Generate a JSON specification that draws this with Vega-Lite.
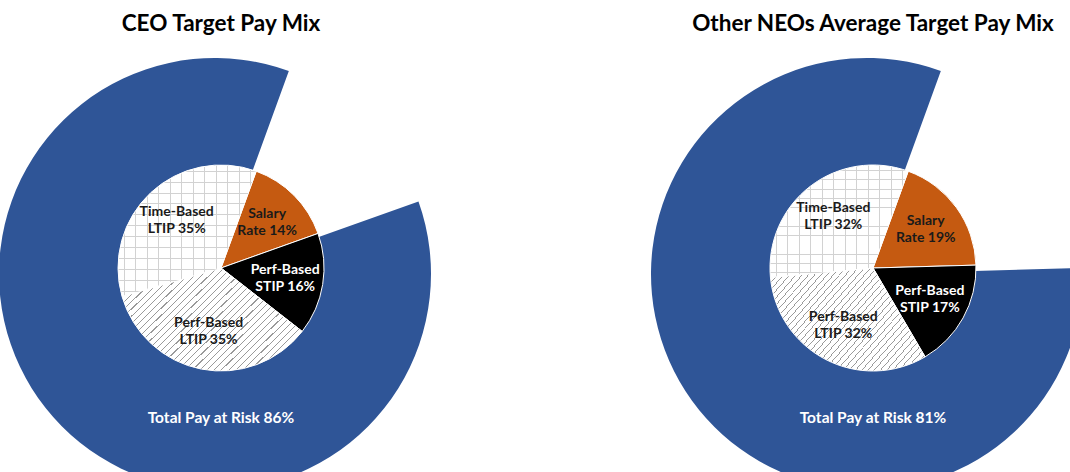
{
  "$schema": "https://vega.github.io/schema/vega-lite/v6.json",
  "width": 1070,
  "height": 472,
  "autosize": {"type": "none"},
  "padding": 0,
  "background": "white",
  "config": {"view": {"stroke": null}, "font": "Lato"},
  "datasets": {
    "pie": [
      {"chart": "CEO", "seg": "Salary", "label": "Salary\nRate 14%", "start": 0, "end": 14},
      {"chart": "CEO", "seg": "Perf-Based STIP", "label": "Perf-Based\nSTIP 16%", "start": 14, "end": 30},
      {"chart": "CEO", "seg": "Perf-Based LTIP", "label": "Perf-Based\nLTIP 35%", "start": 30, "end": 65},
      {"chart": "CEO", "seg": "Time-Based LTIP", "label": "Time-Based\nLTIP 35%", "start": 65, "end": 100},
      {"chart": "NEO", "seg": "Salary", "label": "Salary\nRate 19%", "start": 0, "end": 19},
      {"chart": "NEO", "seg": "Perf-Based STIP", "label": "Perf-Based\nSTIP 17%", "start": 19, "end": 36},
      {"chart": "NEO", "seg": "Perf-Based LTIP", "label": "Perf-Based\nLTIP 32%", "start": 36, "end": 68},
      {"chart": "NEO", "seg": "Time-Based LTIP", "label": "Time-Based\nLTIP 32%", "start": 68, "end": 100}
    ],
    "risk": [
      {"chart": "CEO", "label": "Total Pay at Risk 86%", "start": 14, "end": 100},
      {"chart": "NEO", "label": "Total Pay at Risk 81%", "start": 19, "end": 100}
    ],
    "titles": [
      {"chart": "CEO", "title": "CEO Target Pay Mix"},
      {"chart": "NEO", "title": "Other NEOs Average Target Pay Mix"}
    ]
  },
  "encoding": {
    "x": {"field": "chart", "type": "nominal", "scale": {"type": "point", "domain": ["CEO", "NEO"], "range": [221, 873], "padding": 0}, "axis": null},
    "y": {"field": "chart", "type": "nominal", "scale": {"type": "point", "domain": ["CEO", "NEO"], "range": [268, 268], "padding": 0}, "axis": null}
  },
  "layer": [
    {
      "data": {"name": "risk"},
      "mark": {"type": "arc", "radius": 216, "radius2": 90, "fill": "#2F5597", "xOffset": -6, "yOffset": 6},
      "encoding": {
        "theta": {"field": "start", "type": "quantitative", "scale": {"domain": [0, 100], "range": [0.349, 6.632]}},
        "theta2": {"field": "end"}
      }
    },
    {
      "data": {"name": "pie"},
      "transform": [{"filter": "datum.seg === 'Salary' || datum.seg === 'Perf-Based STIP'"}],
      "mark": {"type": "arc", "radius": 103, "stroke": "white", "strokeWidth": 1},
      "encoding": {
        "theta": {"field": "start", "type": "quantitative", "scale": {"domain": [0, 100], "range": [0.349, 6.632]}},
        "theta2": {"field": "end"},
        "fill": {"condition": {"test": "datum.seg === 'Salary'", "value": "#C55A11"}, "value": "#000000"}
      }
    },
    {
      "data": {"name": "pie"},
      "transform": [{"filter": "datum.seg === 'Perf-Based LTIP'"}],
      "mark": {"type": "arc", "radius": 103, "stroke": "white", "strokeWidth": 1,
        "fill": {"gradient": "linear", "x1": 0, "y1": 0, "x2": 1.2, "y2": 0.7, "stops": [
          {"offset": 0, "color": "#9a9a9a"}, {"offset": 0.004, "color": "#9a9a9a"}, {"offset": 0.004, "color": "#ffffff"}, {"offset": 0.025, "color": "#ffffff"},
          {"offset": 0.025, "color": "#9a9a9a"}, {"offset": 0.029, "color": "#9a9a9a"}, {"offset": 0.029, "color": "#ffffff"}, {"offset": 0.05, "color": "#ffffff"},
          {"offset": 0.05, "color": "#9a9a9a"}, {"offset": 0.054, "color": "#9a9a9a"}, {"offset": 0.054, "color": "#ffffff"}, {"offset": 0.075, "color": "#ffffff"},
          {"offset": 0.075, "color": "#9a9a9a"}, {"offset": 0.079, "color": "#9a9a9a"}, {"offset": 0.079, "color": "#ffffff"}, {"offset": 0.1, "color": "#ffffff"},
          {"offset": 0.1, "color": "#9a9a9a"}, {"offset": 0.104, "color": "#9a9a9a"}, {"offset": 0.104, "color": "#ffffff"}, {"offset": 0.125, "color": "#ffffff"},
          {"offset": 0.125, "color": "#9a9a9a"}, {"offset": 0.129, "color": "#9a9a9a"}, {"offset": 0.129, "color": "#ffffff"}, {"offset": 0.15, "color": "#ffffff"},
          {"offset": 0.15, "color": "#9a9a9a"}, {"offset": 0.154, "color": "#9a9a9a"}, {"offset": 0.154, "color": "#ffffff"}, {"offset": 0.175, "color": "#ffffff"},
          {"offset": 0.175, "color": "#9a9a9a"}, {"offset": 0.179, "color": "#9a9a9a"}, {"offset": 0.179, "color": "#ffffff"}, {"offset": 0.2, "color": "#ffffff"},
          {"offset": 0.2, "color": "#9a9a9a"}, {"offset": 0.204, "color": "#9a9a9a"}, {"offset": 0.204, "color": "#ffffff"}, {"offset": 0.225, "color": "#ffffff"},
          {"offset": 0.225, "color": "#9a9a9a"}, {"offset": 0.229, "color": "#9a9a9a"}, {"offset": 0.229, "color": "#ffffff"}, {"offset": 0.25, "color": "#ffffff"},
          {"offset": 0.25, "color": "#9a9a9a"}, {"offset": 0.254, "color": "#9a9a9a"}, {"offset": 0.254, "color": "#ffffff"}, {"offset": 0.275, "color": "#ffffff"},
          {"offset": 0.275, "color": "#9a9a9a"}, {"offset": 0.279, "color": "#9a9a9a"}, {"offset": 0.279, "color": "#ffffff"}, {"offset": 0.3, "color": "#ffffff"},
          {"offset": 0.3, "color": "#9a9a9a"}, {"offset": 0.304, "color": "#9a9a9a"}, {"offset": 0.304, "color": "#ffffff"}, {"offset": 0.325, "color": "#ffffff"},
          {"offset": 0.325, "color": "#9a9a9a"}, {"offset": 0.329, "color": "#9a9a9a"}, {"offset": 0.329, "color": "#ffffff"}, {"offset": 0.35, "color": "#ffffff"},
          {"offset": 0.35, "color": "#9a9a9a"}, {"offset": 0.354, "color": "#9a9a9a"}, {"offset": 0.354, "color": "#ffffff"}, {"offset": 0.375, "color": "#ffffff"},
          {"offset": 0.375, "color": "#9a9a9a"}, {"offset": 0.379, "color": "#9a9a9a"}, {"offset": 0.379, "color": "#ffffff"}, {"offset": 0.4, "color": "#ffffff"},
          {"offset": 0.4, "color": "#9a9a9a"}, {"offset": 0.404, "color": "#9a9a9a"}, {"offset": 0.404, "color": "#ffffff"}, {"offset": 0.425, "color": "#ffffff"},
          {"offset": 0.425, "color": "#9a9a9a"}, {"offset": 0.429, "color": "#9a9a9a"}, {"offset": 0.429, "color": "#ffffff"}, {"offset": 0.45, "color": "#ffffff"},
          {"offset": 0.45, "color": "#9a9a9a"}, {"offset": 0.454, "color": "#9a9a9a"}, {"offset": 0.454, "color": "#ffffff"}, {"offset": 0.475, "color": "#ffffff"},
          {"offset": 0.475, "color": "#9a9a9a"}, {"offset": 0.479, "color": "#9a9a9a"}, {"offset": 0.479, "color": "#ffffff"}, {"offset": 0.5, "color": "#ffffff"},
          {"offset": 0.5, "color": "#9a9a9a"}, {"offset": 0.504, "color": "#9a9a9a"}, {"offset": 0.504, "color": "#ffffff"}, {"offset": 0.525, "color": "#ffffff"},
          {"offset": 0.525, "color": "#9a9a9a"}, {"offset": 0.529, "color": "#9a9a9a"}, {"offset": 0.529, "color": "#ffffff"}, {"offset": 0.55, "color": "#ffffff"},
          {"offset": 0.55, "color": "#9a9a9a"}, {"offset": 0.554, "color": "#9a9a9a"}, {"offset": 0.554, "color": "#ffffff"}, {"offset": 0.575, "color": "#ffffff"},
          {"offset": 0.575, "color": "#9a9a9a"}, {"offset": 0.579, "color": "#9a9a9a"}, {"offset": 0.579, "color": "#ffffff"}, {"offset": 0.6, "color": "#ffffff"},
          {"offset": 0.6, "color": "#9a9a9a"}, {"offset": 0.604, "color": "#9a9a9a"}, {"offset": 0.604, "color": "#ffffff"}, {"offset": 0.625, "color": "#ffffff"},
          {"offset": 0.625, "color": "#9a9a9a"}, {"offset": 0.629, "color": "#9a9a9a"}, {"offset": 0.629, "color": "#ffffff"}, {"offset": 0.65, "color": "#ffffff"},
          {"offset": 0.65, "color": "#9a9a9a"}, {"offset": 0.654, "color": "#9a9a9a"}, {"offset": 0.654, "color": "#ffffff"}, {"offset": 0.675, "color": "#ffffff"},
          {"offset": 0.675, "color": "#9a9a9a"}, {"offset": 0.679, "color": "#9a9a9a"}, {"offset": 0.679, "color": "#ffffff"}, {"offset": 0.7, "color": "#ffffff"},
          {"offset": 0.7, "color": "#9a9a9a"}, {"offset": 0.704, "color": "#9a9a9a"}, {"offset": 0.704, "color": "#ffffff"}, {"offset": 0.725, "color": "#ffffff"},
          {"offset": 0.725, "color": "#9a9a9a"}, {"offset": 0.729, "color": "#9a9a9a"}, {"offset": 0.729, "color": "#ffffff"}, {"offset": 0.75, "color": "#ffffff"},
          {"offset": 0.75, "color": "#9a9a9a"}, {"offset": 0.754, "color": "#9a9a9a"}, {"offset": 0.754, "color": "#ffffff"}, {"offset": 0.775, "color": "#ffffff"},
          {"offset": 0.775, "color": "#9a9a9a"}, {"offset": 0.779, "color": "#9a9a9a"}, {"offset": 0.779, "color": "#ffffff"}, {"offset": 0.8, "color": "#ffffff"},
          {"offset": 0.8, "color": "#9a9a9a"}, {"offset": 0.804, "color": "#9a9a9a"}, {"offset": 0.804, "color": "#ffffff"}, {"offset": 0.825, "color": "#ffffff"},
          {"offset": 0.825, "color": "#9a9a9a"}, {"offset": 0.829, "color": "#9a9a9a"}, {"offset": 0.829, "color": "#ffffff"}, {"offset": 0.85, "color": "#ffffff"},
          {"offset": 0.85, "color": "#9a9a9a"}, {"offset": 0.854, "color": "#9a9a9a"}, {"offset": 0.854, "color": "#ffffff"}, {"offset": 0.875, "color": "#ffffff"},
          {"offset": 0.875, "color": "#9a9a9a"}, {"offset": 0.879, "color": "#9a9a9a"}, {"offset": 0.879, "color": "#ffffff"}, {"offset": 0.9, "color": "#ffffff"},
          {"offset": 0.9, "color": "#9a9a9a"}, {"offset": 0.904, "color": "#9a9a9a"}, {"offset": 0.904, "color": "#ffffff"}, {"offset": 0.925, "color": "#ffffff"},
          {"offset": 0.925, "color": "#9a9a9a"}, {"offset": 0.929, "color": "#9a9a9a"}, {"offset": 0.929, "color": "#ffffff"}, {"offset": 0.95, "color": "#ffffff"},
          {"offset": 0.95, "color": "#9a9a9a"}, {"offset": 0.954, "color": "#9a9a9a"}, {"offset": 0.954, "color": "#ffffff"}, {"offset": 0.975, "color": "#ffffff"},
          {"offset": 0.975, "color": "#9a9a9a"}, {"offset": 0.979, "color": "#9a9a9a"}, {"offset": 0.979, "color": "#ffffff"}, {"offset": 1, "color": "#ffffff"}
        ]}
      },
      "encoding": {
        "theta": {"field": "start", "type": "quantitative", "scale": {"domain": [0, 100], "range": [0.349, 6.632]}},
        "theta2": {"field": "end"}
      }
    },
    {
      "data": {"name": "pie"},
      "transform": [{"filter": "datum.seg === 'Time-Based LTIP'"}],
      "mark": {"type": "arc", "radius": 103, "stroke": "white", "strokeWidth": 1,
        "fill": {"gradient": "linear", "x1": 0, "y1": 0, "x2": 1, "y2": 0, "stops": [
          {"offset": 0, "color": "#ffffff"},
          {"offset": 0.04, "color": "#ffffff"}, {"offset": 0.04, "color": "#d2d2d2"}, {"offset": 0.048, "color": "#d2d2d2"}, {"offset": 0.048, "color": "#ffffff"},
          {"offset": 0.1233, "color": "#ffffff"}, {"offset": 0.1233, "color": "#d2d2d2"}, {"offset": 0.1313, "color": "#d2d2d2"}, {"offset": 0.1313, "color": "#ffffff"},
          {"offset": 0.2067, "color": "#ffffff"}, {"offset": 0.2067, "color": "#d2d2d2"}, {"offset": 0.2147, "color": "#d2d2d2"}, {"offset": 0.2147, "color": "#ffffff"},
          {"offset": 0.29, "color": "#ffffff"}, {"offset": 0.29, "color": "#d2d2d2"}, {"offset": 0.298, "color": "#d2d2d2"}, {"offset": 0.298, "color": "#ffffff"},
          {"offset": 0.3733, "color": "#ffffff"}, {"offset": 0.3733, "color": "#d2d2d2"}, {"offset": 0.3813, "color": "#d2d2d2"}, {"offset": 0.3813, "color": "#ffffff"},
          {"offset": 0.4567, "color": "#ffffff"}, {"offset": 0.4567, "color": "#d2d2d2"}, {"offset": 0.4647, "color": "#d2d2d2"}, {"offset": 0.4647, "color": "#ffffff"},
          {"offset": 0.54, "color": "#ffffff"}, {"offset": 0.54, "color": "#d2d2d2"}, {"offset": 0.548, "color": "#d2d2d2"}, {"offset": 0.548, "color": "#ffffff"},
          {"offset": 0.6233, "color": "#ffffff"}, {"offset": 0.6233, "color": "#d2d2d2"}, {"offset": 0.6313, "color": "#d2d2d2"}, {"offset": 0.6313, "color": "#ffffff"},
          {"offset": 0.7067, "color": "#ffffff"}, {"offset": 0.7067, "color": "#d2d2d2"}, {"offset": 0.7147, "color": "#d2d2d2"}, {"offset": 0.7147, "color": "#ffffff"},
          {"offset": 0.79, "color": "#ffffff"}, {"offset": 0.79, "color": "#d2d2d2"}, {"offset": 0.798, "color": "#d2d2d2"}, {"offset": 0.798, "color": "#ffffff"},
          {"offset": 0.8733, "color": "#ffffff"}, {"offset": 0.8733, "color": "#d2d2d2"}, {"offset": 0.8813, "color": "#d2d2d2"}, {"offset": 0.8813, "color": "#ffffff"},
          {"offset": 0.9567, "color": "#ffffff"}, {"offset": 0.9567, "color": "#d2d2d2"}, {"offset": 0.9647, "color": "#d2d2d2"}, {"offset": 0.9647, "color": "#ffffff"},
          {"offset": 1, "color": "#ffffff"}
        ]}
      },
      "encoding": {
        "theta": {"field": "start", "type": "quantitative", "scale": {"domain": [0, 100], "range": [0.349, 6.632]}},
        "theta2": {"field": "end"}
      }
    },
    {
      "data": {"name": "pie"},
      "transform": [{"filter": "datum.seg === 'Time-Based LTIP'"}],
      "mark": {"type": "arc", "radius": 102.5,
        "fill": {"gradient": "linear", "x1": 0, "y1": 0, "x2": 0, "y2": 1, "stops": [
          {"offset": 0, "color": "rgba(255,255,255,0)"},
          {"offset": 0.04, "color": "rgba(255,255,255,0)"}, {"offset": 0.04, "color": "#d2d2d2"}, {"offset": 0.048, "color": "#d2d2d2"}, {"offset": 0.048, "color": "rgba(255,255,255,0)"},
          {"offset": 0.1233, "color": "rgba(255,255,255,0)"}, {"offset": 0.1233, "color": "#d2d2d2"}, {"offset": 0.1313, "color": "#d2d2d2"}, {"offset": 0.1313, "color": "rgba(255,255,255,0)"},
          {"offset": 0.2067, "color": "rgba(255,255,255,0)"}, {"offset": 0.2067, "color": "#d2d2d2"}, {"offset": 0.2147, "color": "#d2d2d2"}, {"offset": 0.2147, "color": "rgba(255,255,255,0)"},
          {"offset": 0.29, "color": "rgba(255,255,255,0)"}, {"offset": 0.29, "color": "#d2d2d2"}, {"offset": 0.298, "color": "#d2d2d2"}, {"offset": 0.298, "color": "rgba(255,255,255,0)"},
          {"offset": 0.3733, "color": "rgba(255,255,255,0)"}, {"offset": 0.3733, "color": "#d2d2d2"}, {"offset": 0.3813, "color": "#d2d2d2"}, {"offset": 0.3813, "color": "rgba(255,255,255,0)"},
          {"offset": 0.4567, "color": "rgba(255,255,255,0)"}, {"offset": 0.4567, "color": "#d2d2d2"}, {"offset": 0.4647, "color": "#d2d2d2"}, {"offset": 0.4647, "color": "rgba(255,255,255,0)"},
          {"offset": 0.54, "color": "rgba(255,255,255,0)"}, {"offset": 0.54, "color": "#d2d2d2"}, {"offset": 0.548, "color": "#d2d2d2"}, {"offset": 0.548, "color": "rgba(255,255,255,0)"},
          {"offset": 0.6233, "color": "rgba(255,255,255,0)"}, {"offset": 0.6233, "color": "#d2d2d2"}, {"offset": 0.6313, "color": "#d2d2d2"}, {"offset": 0.6313, "color": "rgba(255,255,255,0)"},
          {"offset": 0.7067, "color": "rgba(255,255,255,0)"}, {"offset": 0.7067, "color": "#d2d2d2"}, {"offset": 0.7147, "color": "#d2d2d2"}, {"offset": 0.7147, "color": "rgba(255,255,255,0)"},
          {"offset": 0.79, "color": "rgba(255,255,255,0)"}, {"offset": 0.79, "color": "#d2d2d2"}, {"offset": 0.798, "color": "#d2d2d2"}, {"offset": 0.798, "color": "rgba(255,255,255,0)"},
          {"offset": 0.8733, "color": "rgba(255,255,255,0)"}, {"offset": 0.8733, "color": "#d2d2d2"}, {"offset": 0.8813, "color": "#d2d2d2"}, {"offset": 0.8813, "color": "rgba(255,255,255,0)"},
          {"offset": 0.9567, "color": "rgba(255,255,255,0)"}, {"offset": 0.9567, "color": "#d2d2d2"}, {"offset": 0.9647, "color": "#d2d2d2"}, {"offset": 0.9647, "color": "rgba(255,255,255,0)"},
          {"offset": 1, "color": "rgba(255,255,255,0)"}
        ]}
      },
      "encoding": {
        "theta": {"field": "start", "type": "quantitative", "scale": {"domain": [0, 100], "range": [0.349, 6.632]}},
        "theta2": {"field": "end"}
      }
    },
    {
      "data": {"name": "pie"},
      "transform": [
        {"fold": ["start", "end"], "as": ["edge", "pos"]},
        {"aggregate": [{"op": "mean", "field": "pos", "as": "mid"}], "groupby": ["chart", "seg", "label"]}
      ],
      "mark": {"type": "text", "radius": 65, "dy": -8.5, "fontSize": 14, "fontWeight": "bold", "font": "Lato", "lineBreak": "\n", "lineHeight": 17, "align": "center", "baseline": "middle"},
      "encoding": {
        "theta": {"field": "mid", "type": "quantitative", "scale": {"domain": [0, 100], "range": [0.349, 6.632]}},
        "text": {"field": "label"},
        "color": {"condition": {"test": "datum.seg === 'Perf-Based STIP'", "value": "#ffffff"}, "value": "#1a1a1a"}
      }
    },
    {
      "data": {"name": "risk"},
      "mark": {"type": "text", "fontSize": 15.5, "fontWeight": "bold", "font": "Lato", "align": "center", "baseline": "middle", "color": "#ffffff"},
      "encoding": {
        "theta": {"value": 3.1416},
        "radius": {"value": 150},
        "text": {"field": "label"}
      }
    },
    {
      "data": {"name": "titles"},
      "mark": {"type": "text", "fontSize": 22.5, "fontWeight": "bold", "font": "Lato", "align": "center", "baseline": "alphabetic", "color": "#000000"},
      "encoding": {
        "theta": {"value": 0},
        "radius": {"value": 237},
        "text": {"field": "title"}
      }
    }
  ]
}
